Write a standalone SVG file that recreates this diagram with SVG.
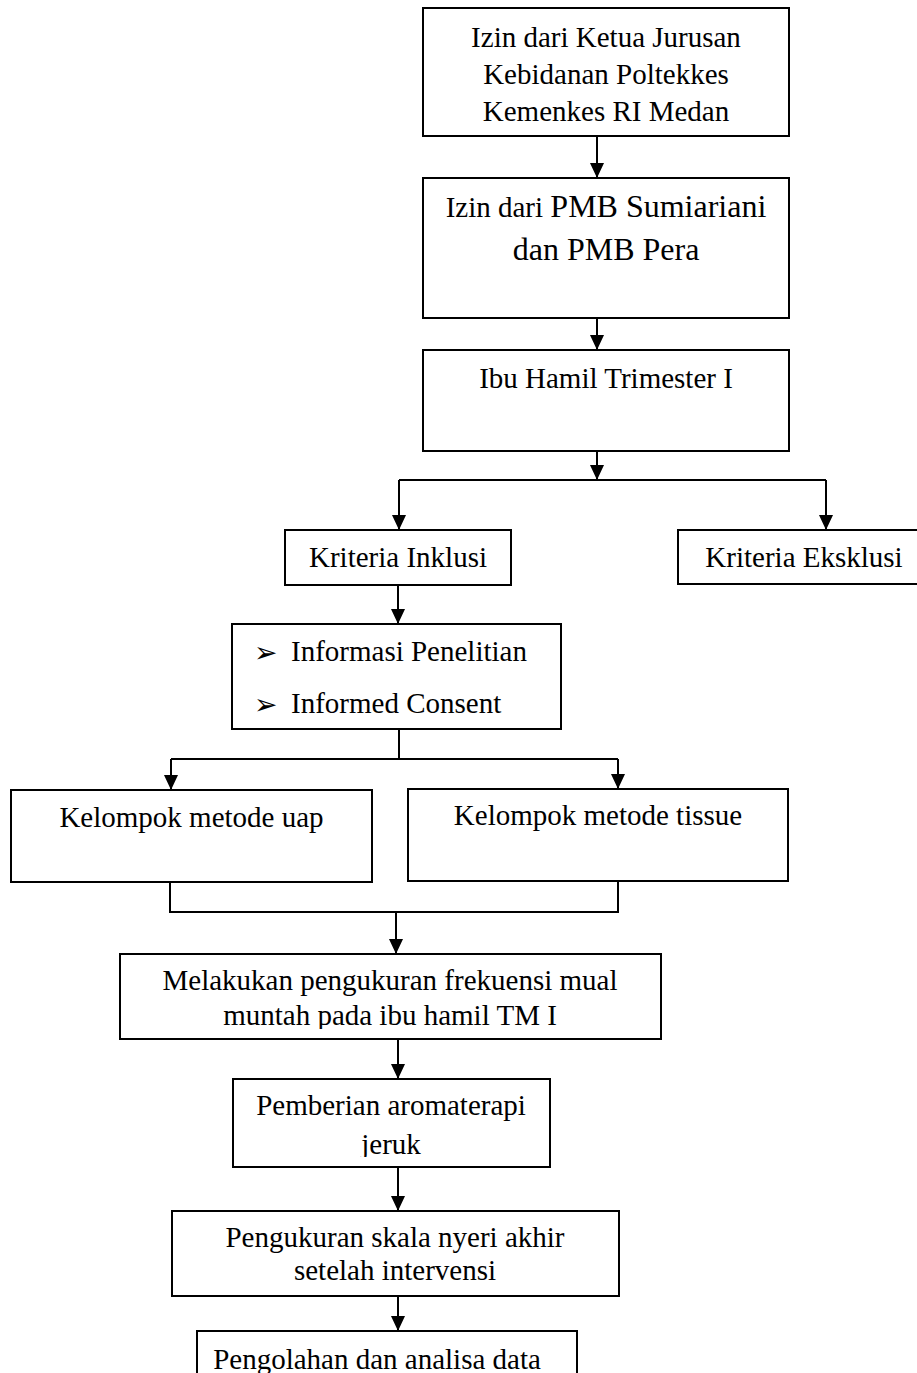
<svg xmlns="http://www.w3.org/2000/svg" width="917" height="1373" viewBox="0 0 917 1373">
<style>
.box{fill:#fff;stroke:#000;stroke-width:2}
.t{font-family:"Liberation Serif","Times New Roman",serif;font-size:29px;fill:#000;text-anchor:middle}
.tl{font-family:"Liberation Serif","Times New Roman",serif;font-size:29px;fill:#000}
.b{font-family:"DejaVu Sans",sans-serif;font-size:28px;fill:#000}
.c{fill:none;stroke:#000;stroke-width:2}
</style>
<defs>
<marker id="ah" markerUnits="userSpaceOnUse" markerWidth="15" markerHeight="14" viewBox="0 0 15 14" refX="15" refY="7" orient="auto">
<path d="M0,0 L15,7 L0,14 z" fill="#000"/>
</marker>
<clipPath id="clipMel"><rect x="120" y="954" width="541" height="75"/></clipPath>
<clipPath id="clipPem"><rect x="233" y="1079" width="317" height="78"/></clipPath>
</defs>
<rect width="917" height="1373" fill="#fff"/>

<g id="connectors">
<path class="c" d="M597,136 V178" marker-end="url(#ah)"/>
<path class="c" d="M597,318 V350" marker-end="url(#ah)"/>
<path class="c" d="M597,451 V480" marker-end="url(#ah)"/>
<path class="c" d="M399,480 H826"/>
<path class="c" d="M399,480 V530" marker-end="url(#ah)"/>
<path class="c" d="M826,480 V530" marker-end="url(#ah)"/>
<path class="c" d="M398,585 V624" marker-end="url(#ah)"/>
<path class="c" d="M399,729 V759"/>
<path class="c" d="M171,759 H618"/>
<path class="c" d="M171,759 V790" marker-end="url(#ah)"/>
<path class="c" d="M618,759 V789" marker-end="url(#ah)"/>
<path class="c" d="M170,882 V912 H618 V881"/>
<path class="c" d="M396,912 V954" marker-end="url(#ah)"/>
<path class="c" d="M398,1039 V1079" marker-end="url(#ah)"/>
<path class="c" d="M398,1167 V1211" marker-end="url(#ah)"/>
<path class="c" d="M398,1296 V1331" marker-end="url(#ah)"/>
</g>

<g id="n1">
<rect class="box" x="423" y="8" width="366" height="128"/>
<text class="t" x="606" y="47">Izin dari Ketua Jurusan</text>
<text class="t" x="606" y="84">Kebidanan Poltekkes</text>
<text class="t" x="606" y="121">Kemenkes RI Medan</text>
</g>

<g id="n2">
<rect class="box" x="423" y="178" width="366" height="140"/>
<text class="t" x="606" y="217">Izin dari <tspan style="font-size:32px">PMB Sumiariani</tspan></text>
<text class="t" x="606" y="260" style="font-size:32px">dan PMB Pera</text>
</g>

<g id="n3">
<rect class="box" x="423" y="350" width="366" height="101"/>
<text class="t" x="606" y="388">Ibu Hamil Trimester I</text>
</g>

<g id="n4">
<rect class="box" x="285" y="530" width="226" height="55"/>
<text class="t" x="398" y="567">Kriteria Inklusi</text>
</g>

<g id="n5">
<rect class="box" x="678" y="530" width="260" height="54"/>
<text class="t" x="804" y="567">Kriteria Eksklusi</text>
</g>

<g id="n6">
<rect class="box" x="232" y="624" width="329" height="105"/>
<text class="b" x="254" y="662">➢</text>
<text class="tl" x="291" y="661">Informasi Penelitian</text>
<text class="b" x="254" y="714">➢</text>
<text class="tl" x="291" y="713">Informed Consent</text>
</g>

<g id="n7">
<rect class="box" x="11" y="790" width="361" height="92"/>
<text class="t" x="191.5" y="827">Kelompok metode uap</text>
</g>

<g id="n8">
<rect class="box" x="408" y="789" width="380" height="92"/>
<text class="t" x="598" y="825">Kelompok metode tissue</text>
</g>

<g id="n9">
<rect class="box" x="120" y="954" width="541" height="85"/>
<text class="t" x="390" y="990">Melakukan pengukuran frekuensi mual</text>
<text class="t" x="390" y="1025" clip-path="url(#clipMel)">muntah pada ibu hamil TM I</text>
</g>

<g id="n10">
<rect class="box" x="233" y="1079" width="317" height="88"/>
<text class="t" x="391" y="1115">Pemberian aromaterapi</text>
<text class="t" x="391" y="1154" clip-path="url(#clipPem)">jeruk</text>
</g>

<g id="n11">
<rect class="box" x="172" y="1211" width="447" height="85"/>
<text class="t" x="395" y="1247">Pengukuran skala nyeri akhir</text>
<text class="t" x="395" y="1280">setelah intervensi</text>
</g>

<g id="n12">
<rect class="box" x="197" y="1331" width="380" height="60"/>
<text class="t" x="377" y="1369">Pengolahan dan analisa data</text>
</g>
</svg>
